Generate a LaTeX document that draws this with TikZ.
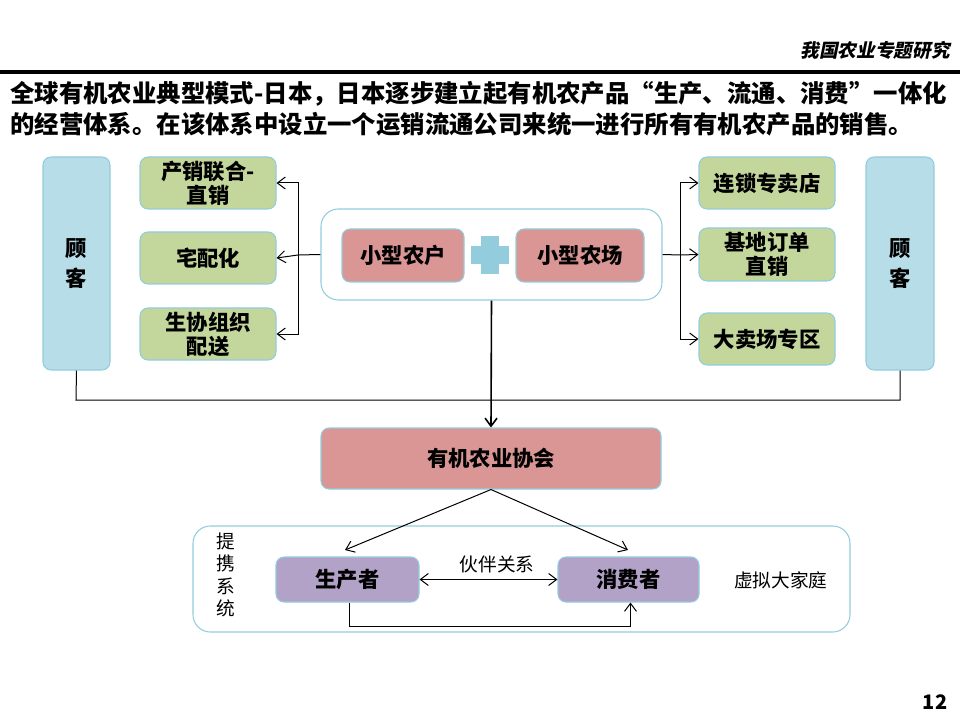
\documentclass[tikz,border=0pt]{standalone}
\usepackage{fontspec}
\setmainfont{Noto Sans CJK SC}
\newfontfamily\slcjk{Noto Sans CJK SC}[FakeSlant=0.2]
\usetikzlibrary{arrows.meta}
\definecolor{cblue}{HTML}{B7DDE8}
\definecolor{cblueb}{HTML}{93CDDD}
\definecolor{cgreen}{HTML}{C3D69B}
\definecolor{cpink}{HTML}{D99694}
\definecolor{cpurple}{HTML}{B3A2C7}
\tikzset{
  box/.style={rounded corners=6pt, draw=cblueb, line width=0.8pt, inner sep=0pt, align=center, font=\fontsize{16}{18}\selectfont\bfseries},
  bluebox/.style={box, fill=cblue},
  greenbox/.style={box, fill=cgreen},
  pinkbox/.style={box, fill=cpink},
  purplebox/.style={box, fill=cpurple},
  frame/.style={box, rounded corners=13pt, fill=white},
  conn/.style={draw=black, line width=0.75pt},
  arr/.style={conn, -{Straight Barb[length=6pt,width=9pt]}},
  plain/.style={font=\fontsize{14}{18}\selectfont, inner sep=0pt},
}
\newcommand\pbox[7]{\node[#1, minimum width={0.75pt*(#5-#3)}, minimum height={0.75pt*(#6-#4)}] (#2) at ({(#3+#5)/2},{(#4+#6)/2}) {#7};}
\begin{document}
\begin{tikzpicture}[x=0.75pt,y=-0.75pt]
\useasboundingbox (0,0) rectangle (960,720);
% header
\node[anchor=east, inner sep=0pt, font=\fontsize{14}{16}\slcjk\bfseries] (hdr) at (950,50) {我国农业专题研究};
\draw[line width=2.3pt] (0,72) -- (960,72);
\node[anchor=west, inner sep=0pt, font=\fontsize{18.3}{22}\selectfont\bfseries] (t1) at (10,94) {全球有机农业典型模式-日本，日本逐步建立起有机农产品“生产、流通、消费”一体化};
\node[anchor=west, inner sep=0pt, font=\fontsize{18.3}{22}\selectfont\bfseries] (t2) at (10,124) {的经营体系。在该体系中设立一个运销流通公司来统一进行所有有机农产品的销售。};
% customers
\pbox{bluebox, font=\fontsize{16}{22.5}\selectfont\bfseries}{lc}{43}{157}{110}{370}{顾\\客}
\pbox{bluebox, font=\fontsize{16}{22.5}\selectfont\bfseries}{rc}{866}{157}{934}{370}{顾\\客}
% left green
\pbox{greenbox}{g1}{140}{157}{276}{209}{产销联合-\\直销}
\pbox{greenbox}{g2}{140}{232}{276}{284}{宅配化}
\pbox{greenbox}{g3}{140}{308}{276}{360}{生协组织\\配送}
% right green
\pbox{greenbox}{r1}{699}{157}{835}{209}{连锁专卖店}
\pbox{greenbox}{r2}{699}{228}{835}{281}{基地订单\\直销}
\pbox{greenbox}{r3}{699}{313}{835}{365}{大卖场专区}
% center container
\pbox{frame}{cont}{321}{209}{662}{300}{}
\pbox{pinkbox}{farmer}{342}{229}{464}{282}{小型农户}
\pbox{pinkbox}{farm}{516}{229}{644}{282}{小型农场}
\fill[cblueb] (481,236) rectangle (499,274);
\fill[cblueb] (471,246) rectangle (509,264);
% left connectors
\coordinate (lj) at (298,255);
\draw[conn] (cont.west) -- (lj);
\draw[arr] (lj) |- (g1.east);
\draw[arr] (lj) -- (g2.east);
\draw[arr] (lj) |- (g3.east);
% right connectors
\coordinate (rj) at (680,255);
\draw[conn] (cont.east) -- (rj);
\draw[arr] (rj) |- (r1.west);
\draw[arr] (rj) -- (r2.west);
\draw[arr] (rj) |- (r3.west);
% association
\pbox{pinkbox}{assoc}{321}{428}{661}{489}{有机农业协会}
\coordinate (bl) at (76,400);
\coordinate (br) at (900,400);
\draw[conn] (lc.south) -- (bl) -- (br) -- (rc.south);
\draw[conn, line width=1.2pt, -{Straight Barb[length=6pt,width=9pt]}] (cont.south) -- (assoc.north);
% lower frame
\pbox{frame}{lower}{193}{526}{850}{632}{}
\node[plain, align=center, font=\fontsize{14}{16.9}\selectfont] (tixi) at (226,575) {提\\携\\系\\统};
\pbox{purplebox}{prod}{276}{557}{419}{602}{生产者}
\pbox{purplebox}{cons}{558}{557}{699}{602}{消费者}
\coordinate (pa) at (345,550);
\coordinate (ca) at (628,550);
\draw[arr] (assoc.south) -- (pa);
\draw[arr] (assoc.south) -- (ca);
\draw[conn, {Straight Barb[length=6pt,width=9pt]}-{Straight Barb[length=6pt,width=9pt]}] (prod.east) -- (cons.west);
\node[plain] (partner) at (497,564) {伙伴关系};
\node[plain, anchor=west] (family) at (734,580) {虚拟大家庭};
\draw[arr] ([xshift=1.5pt]prod.south) -- ++(0,24) -| ([xshift=1.5pt]cons.south);
% page number
\node[inner sep=0pt, font=\fontsize{15}{18}\selectfont\bfseries] (pg) at (935,702) {12};
\end{tikzpicture}
\end{document}
